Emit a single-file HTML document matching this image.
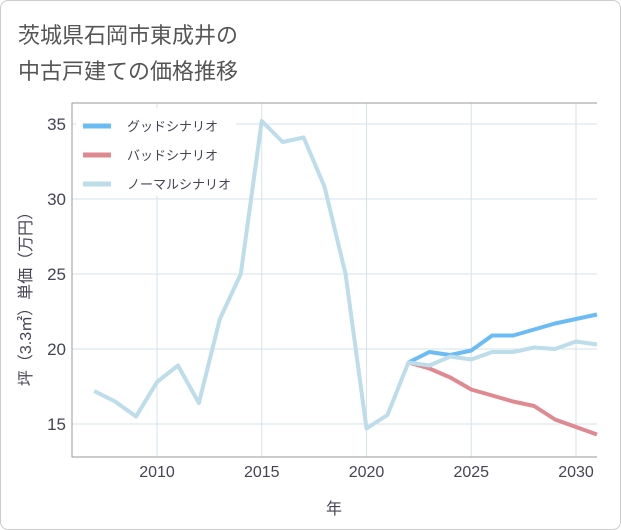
<!DOCTYPE html>
<html><head><meta charset="utf-8"><style>
body{margin:0;background:#fff;font-family:"Liberation Sans","Noto Sans CJK JP",sans-serif;}
#card{position:absolute;left:0;top:0;width:619px;height:528px;border:1px solid #ccc;border-radius:8px;background:#fff;}
.title{position:absolute;left:18px;font-size:22px;color:#555;}
</style></head><body>
<div id="card"></div>
<div class="title" style="top:18px">茨城県石岡市東成井の</div>
<div class="title" style="top:54px">中古戸建ての価格推移</div>
<svg id="chart" width="621" height="530" style="position:absolute;left:0;top:0"></svg>
<script>
const years=[2007,2008,2009,2010,2011,2012,2013,2014,2015,2016,2017,2018,2019,2020,2021,2022,2023,2024,2025,2026,2027,2028,2029,2030,2031];
const normal=[17.2,16.5,15.5,17.8,18.9,16.4,22,25,35.2,33.8,34.1,30.8,25,14.7,15.6,19.1,18.9,19.5,19.3,19.8,19.8,20.1,20.0,20.5,20.3];
const goodYears=[2022,2023,2024,2025,2026,2027,2028,2029,2030,2031];
const good=[19.1,19.8,19.6,19.9,20.9,20.9,21.3,21.7,22.0,22.3];
const bad=[19.1,18.7,18.1,17.3,16.9,16.5,16.2,15.3,14.8,14.3];
const xTicks=[2010,2015,2020,2025,2030];
const yTicks=[15,20,25,30,35];
const NS='http://www.w3.org/2000/svg';
const svg=document.getElementById('chart');
const L=72,R=597,T=103,B=457;
const x=v=>157+(v-2010)*20.95;
const y=v=>349-(v-20)*15;
function mk(t,a,p){const e=document.createElementNS(NS,t);for(const k in a)e.setAttribute(k,a[k]);(p||svg).appendChild(e);return e;}
xTicks.forEach(t=>{const g=mk('line',{x1:x(t),x2:x(t),y1:T,y2:B,stroke:'#d5e3ec','stroke-width':1});


const l=mk('text',{x:x(t),y:B+20,'text-anchor':'middle','font-size':16,fill:'#445'});l.textContent=t;

});
yTicks.forEach(t=>{const g=mk('line',{x1:L,x2:R,y1:y(t),y2:y(t),stroke:'#d5e3ec','stroke-width':1});


const l=mk('text',{x:L-6,y:y(t)+6,'text-anchor':'end','font-size':17,fill:'#445'});l.textContent=t;

});
const ax=mk('path',{d:`M${R} ${T}H${L}V${B}H${R}`,fill:'none',stroke:'#999','stroke-width':1});


function line(xs,ys,color,name){const d=xs.map((v,i)=>(i?'L':'M')+x(v)+' '+y(ys[i])).join('');
const p=mk('path',{d:d,fill:'none',stroke:color,'stroke-width':4,'stroke-linejoin':'round'});

}
const lg=mk('rect',{x:76,y:108,width:160,height:88,fill:'#fff'});


line(goodYears,good,'#6cbcf4','good-scenario-line');
line(goodYears,bad,'#de8a90','bad-scenario-line');
line(years,normal,'#bcdde9','normal-scenario-line');
[['グッドシナリオ','#6cbcf4'],['バッドシナリオ','#de8a90'],['ノーマルシナリオ','#bcdde9']].forEach((e,i)=>{
const yy=126+i*29;
const s=mk('line',{x1:83,x2:111,y1:yy,y2:yy,stroke:e[1],'stroke-width':5});


const t=mk('text',{x:127,y:yy+5,'font-size':13,fill:'#445'});t.textContent=e[0];

});
const xt=mk('text',{x:334,y:514,'text-anchor':'middle','font-size':16,fill:'#445'});xt.textContent='年';


const yt=mk('text',{x:0,y:0,'text-anchor':'middle','font-size':16,fill:'#445',transform:'translate(31,295) rotate(-90)'});yt.textContent='坪（3.3㎡）単価（万円）';


</script>
</body></html>
